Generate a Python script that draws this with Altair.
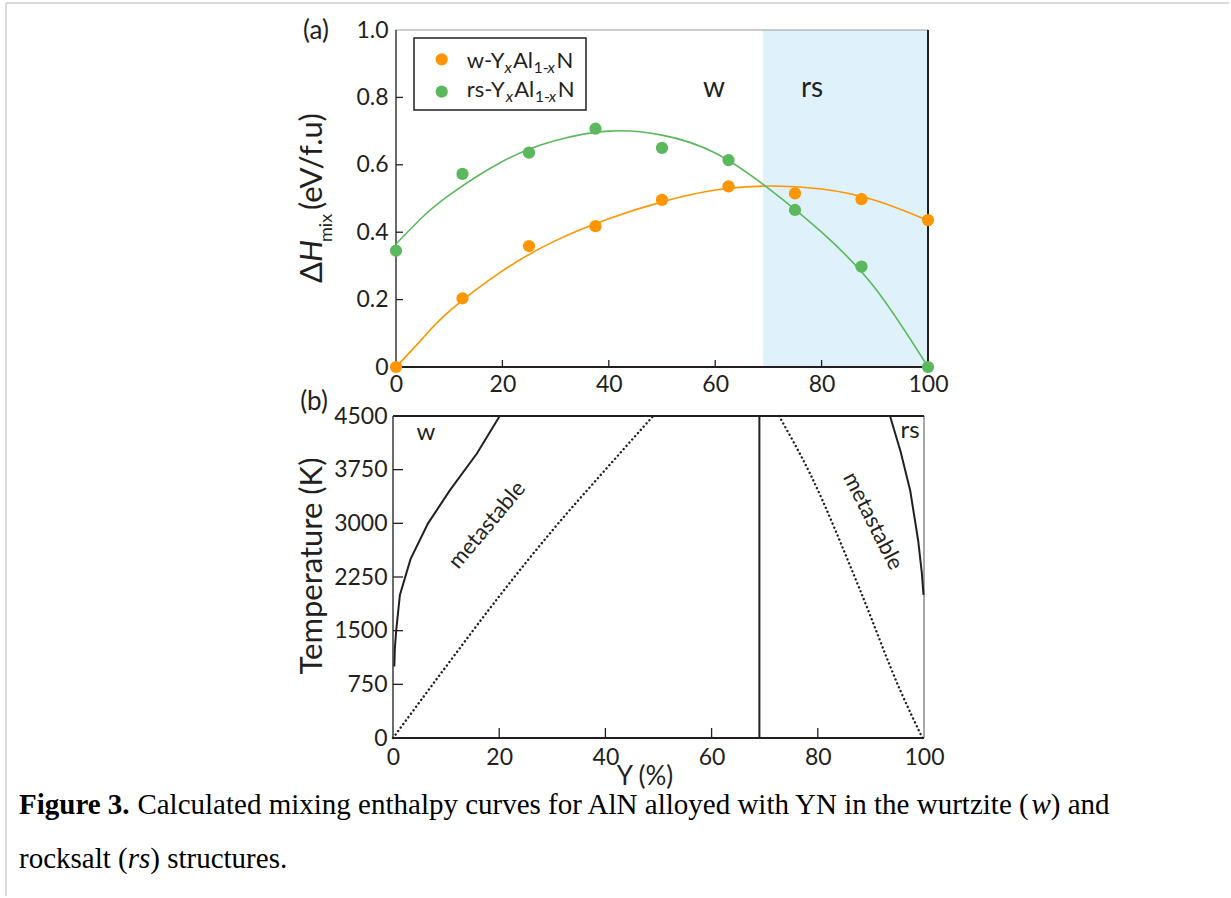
import altair as alt
import pandas as pd

SANS = "Lato"
SERIF = "Liberation Serif"
INK = "#231f20"
ORANGE = "#ff9500"
GREEN = "#5cb85c"
SHADE = "#dff1fb"

# ---------------- (a) mixing enthalpy ----------------
y_grid = [0, 12.5, 25, 37.5, 50, 62.5, 75, 87.5, 100]
dh_w = [0.0, 0.204, 0.359, 0.418, 0.496, 0.536, 0.515, 0.498, 0.436]
dh_rs = [0.345, 0.573, 0.636, 0.707, 0.650, 0.614, 0.466, 0.298, 0.0]

fit_grid = [0, 5, 10, 20, 30, 40, 50, 60, 70, 80, 90, 100]
fit_w = [0.0, 0.085, 0.165, 0.285, 0.375, 0.44, 0.49, 0.525, 0.537, 0.528, 0.495, 0.435]
fit_rs = [0.365, 0.445, 0.51, 0.61, 0.672, 0.70, 0.688, 0.635, 0.53, 0.40, 0.235, 0.0]

boundary = 69  # w / rs stability boundary, Y (%)

x_ticks = [0, 20, 40, 60, 80, 100]
dh_ticks = [0, 0.2, 0.4, 0.6, 0.8, 1.0]
T_ticks = [0, 750, 1500, 2250, 3000, 3750, 4500]

# ---------------- (b) phase diagram ----------------
bin_w_y = [0.25, 0.35, 0.6, 1.3, 3.3, 6.6, 10.7, 15.8, 20.1]
bin_w_T = [1000, 1250, 1500, 2000, 2500, 3000, 3460, 3975, 4500]
spin_w_y = [0, 10, 20, 30, 40, 49]
spin_w_T = [0, 1000, 1980, 2900, 3750, 4500]
spin_rs_y = [72.7, 78.5, 88.0, 95.5, 99.7]
spin_rs_T = [4500, 3700, 2060, 670, 0]
bin_rs_y = [93.6, 95.6, 97.4, 98.9, 99.6, 99.9]
bin_rs_T = [4500, 4000, 3460, 2760, 2300, 2000]

# ---------------- tables ----------------
pts = pd.DataFrame({
    "Y": y_grid + y_grid,
    "v": dh_w + dh_rs,
    "phase": ["w"] * len(y_grid) + ["rs"] * len(y_grid),
})
fits = pd.DataFrame({
    "Y": fit_grid + fit_grid,
    "v": fit_w + fit_rs,
    "phase": ["w"] * len(fit_grid) + ["rs"] * len(fit_grid),
})


def curve_table(curves):
    rows = []
    for name, ys, ts in curves:
        for i, (a, b) in enumerate(zip(ys, ts)):
            rows.append({"Y": a, "v": b, "curve": name, "i": i})
    return pd.DataFrame(rows)


solid = curve_table([("w-bin", bin_w_y, bin_w_T), ("rs-bin", bin_rs_y, bin_rs_T)])
dotted = curve_table([("w-spin", spin_w_y, spin_w_T), ("rs-spin", spin_rs_y, spin_rs_T)])

region = pd.DataFrame({"lo": [boundary], "hi": [100]})
ONE = pd.DataFrame({"k": [0]})

W_A, H_A = 535, 337
W_B, H_B = 531, 322

phase_color = alt.Scale(domain=["w", "rs"], range=[ORANGE, GREEN])

xs_a = alt.Scale(domain=[0, 100], range=[3, W_A], nice=False)
ys_a = alt.Scale(domain=[0, 1], nice=False)
xs_b = alt.Scale(domain=[0, 100], nice=False)
ys_b = alt.Scale(domain=[0, 4500], nice=False)

ax_common = dict(labelFont=SANS, labelFontSize=23, labelColor=INK, domain=False,
                 ticks=False, tickSize=0, grid=False, title=None, labelOverlap=False,
                 labelFlush=False)
ax_a_x = alt.Axis(values=x_ticks, format="d", labelPadding=6, **ax_common)
ax_a_y = alt.Axis(values=dh_ticks, labelPadding=5,
                  labelExpr="datum.value == 0 ? '0' : format(datum.value, '.1f')", **ax_common)
ax_b_x = alt.Axis(values=x_ticks, format="d", labelPadding=8, **ax_common)
ax_b_y = alt.Axis(values=T_ticks, format="d", labelPadding=6, **ax_common)


def txt(s, x, y, size, font=SANS, color=INK, **kw):
    return alt.Chart(ONE).mark_text(text=s, fontSize=size, font=font, color=color, **kw).encode(
        x=alt.value(x), y=alt.value(y))


def xa(f="Y"):
    return alt.X(f + ":Q", scale=xs_a, axis=ax_a_x)


def ya(f="v"):
    return alt.Y(f + ":Q", scale=ys_a, axis=ax_a_y)


def xb(f="Y"):
    return alt.X(f + ":Q", scale=xs_b, axis=ax_b_x)


def yb(f="v"):
    return alt.Y(f + ":Q", scale=ys_b, axis=ax_b_y)


# ---------- panel (a) ----------
shade = alt.Chart(region).mark_rect(color=SHADE).encode(
    x=xa("lo"), x2="hi", y=alt.value(0), y2=alt.value(H_A))

frame_a = [
    alt.Chart(ONE).mark_rule(color="#9a9a9a", strokeWidth=1).encode(
        x=alt.datum(0), x2=alt.datum(100), y=alt.value(0)),
    alt.Chart(ONE).mark_rule(color=INK, strokeWidth=2).encode(
        x=alt.datum(100), y=alt.value(0), y2=alt.value(H_A)),
    alt.Chart(ONE).mark_rule(color="#3a3a3a", strokeWidth=1.5).encode(
        x=alt.datum(0), y=alt.value(0), y2=alt.value(H_A)),
    alt.Chart(ONE).mark_rule(color=INK, strokeWidth=2).encode(
        x=alt.datum(0), x2=alt.datum(100), y=alt.value(H_A)),
]

xt_a = alt.Chart(pd.DataFrame({"Y": x_ticks[1:-1]})).mark_rule(color=INK, strokeWidth=1.3).encode(
    x=xa(), y=alt.value(H_A), y2=alt.value(H_A - 7))
yt_a = alt.Chart(pd.DataFrame({"v": dh_ticks[1:-1]})).mark_rule(color=INK, strokeWidth=1.3).encode(
    y=ya(), x=alt.value(3), x2=alt.value(10))

fit_lines = alt.Chart(fits).mark_line(interpolate="natural", strokeWidth=1.6).encode(
    x=xa(), y=ya(), color=alt.Color("phase:N", scale=phase_color, legend=None), detail="phase:N")
dots = alt.Chart(pts).mark_circle(size=150, opacity=1).encode(
    x=xa(), y=ya(), color=alt.Color("phase:N", scale=phase_color, legend=None))

legend_box = alt.Chart(ONE).mark_rect(fill="white", stroke=INK, strokeWidth=1.5).encode(
    x=alt.value(21), x2=alt.value(193), y=alt.value(8), y2=alt.value(80))
legend_dots = [
    alt.Chart(ONE).mark_circle(size=150, opacity=1, color=ORANGE).encode(
        x=alt.value(48.7), y=alt.value(29.3)),
    alt.Chart(ONE).mark_circle(size=150, opacity=1, color=GREEN).encode(
        x=alt.value(48.7), y=alt.value(61.7)),
]


def formula(prefix, x0, base, shift):
    # Y_x Al_{1-x} N written piece by piece
    main, sub = 22, 16
    pieces = [
        (prefix + "-Y", x0, base, main, "normal"),
        ("x", shift[0], base + 5, sub, "italic"),
        ("Al", shift[1], base, main, "normal"),
        ("1-", shift[2], base + 5, sub, "normal"),
        ("x", shift[3], base + 5, sub, "italic"),
        ("N", shift[4], base, main, "normal"),
    ]
    return [txt(s, x, y, fs, align="left", baseline="alphabetic", fontStyle=st)
            for s, x, y, fs, st in pieces]


legend_text = (formula("w", 73.7, 38.3, [111.5, 120.0, 140.5, 154.5, 163.5])
               + formula("rs", 73.7, 67.3, [112.7, 121.2, 141.7, 155.7, 164.7]))

labels_a = [
    txt("w", 321, 67.3, 28, align="center", baseline="alphabetic"),
    txt("rs", 419, 67.3, 28, align="center", baseline="alphabetic"),
    txt("(a)", -77, 1, 26, align="center", baseline="middle"),
]

# y title: ΔH_mix (eV/f.u)
TT = 31
title_a = [
    txt("Δ", -71, 253, TT, align="left", baseline="alphabetic", angle=270),
    txt("H", -71, 232, TT, align="left", baseline="alphabetic", angle=270, fontStyle="italic"),
    txt("mix", -61, 212, 18, align="left", baseline="alphabetic", angle=270),
    txt("(eV/f.u)", -71, 180, TT, align="left", baseline="alphabetic", angle=270),
]

# page frame
page = [
    alt.Chart(ONE).mark_rule(color="#d9d9d9", strokeWidth=2).encode(
        x=alt.value(-387), y=alt.value(-27), y2=alt.value(866)),
    alt.Chart(ONE).mark_rule(color="#d9d9d9", strokeWidth=2).encode(
        x=alt.value(-387), x2=alt.value(836), y=alt.value(-27)),
]

panel_a = alt.layer(
    shade, *frame_a, xt_a, yt_a, fit_lines, dots, legend_box, *legend_dots,
    *legend_text, *labels_a, *title_a, *page,
).properties(width=W_A, height=H_A)

# ---------- panel (b) ----------
frame_b = [
    alt.Chart(ONE).mark_rule(color="#8a8a8a", strokeWidth=1.5).encode(
        x=alt.datum(100), y=alt.value(0), y2=alt.value(H_B)),
    alt.Chart(ONE).mark_rule(color=INK, strokeWidth=2).encode(
        x=alt.datum(0), x2=alt.datum(100), y=alt.value(0)),
    alt.Chart(ONE).mark_rule(color="#3a3a3a", strokeWidth=1.5).encode(
        x=alt.datum(0), y=alt.value(0), y2=alt.value(H_B)),
    alt.Chart(ONE).mark_rule(color=INK, strokeWidth=2).encode(
        x=alt.datum(0), x2=alt.datum(100), y=alt.value(H_B)),
]

xt_b = alt.Chart(pd.DataFrame({"Y": x_ticks[1:-1]})).mark_rule(color=INK, strokeWidth=1.3).encode(
    x=xb(), y=alt.value(H_B), y2=alt.value(H_B - 10))
yt_b = alt.Chart(pd.DataFrame({"v": T_ticks[1:-1]})).mark_rule(color=INK, strokeWidth=1.3).encode(
    y=yb(), x=alt.value(0), x2=alt.value(10))

split = alt.Chart(region).mark_rule(color=INK, strokeWidth=2).encode(
    x=xb("lo"), y=alt.value(0), y2=alt.value(H_B))

solid_lines = alt.Chart(solid).mark_line(color=INK, strokeWidth=2).encode(
    x=xb(), y=yb(), detail="curve:N", order="i:Q")
dotted_lines = alt.Chart(dotted).mark_line(color=INK, strokeWidth=2.4, strokeDash=[0.1, 4.2],
                                           strokeCap="round", interpolate="monotone").encode(
    x=xb(), y=yb(), detail="curve:N", order="i:Q")

labels_b = [
    txt("w", 33, 24, 24, align="center", baseline="alphabetic"),
    txt("rs", 517, 22, 24, align="center", baseline="alphabetic"),
    txt("metastable", 94, 109, 22, align="center", baseline="middle", angle=310),
    txt("metastable", 480, 105, 22, align="center", baseline="middle", angle=63),
    txt("(b)", -79, -14, 26, align="center", baseline="middle"),
    txt("Temperature (K)", -71, 150, TT, align="center", baseline="alphabetic", angle=270),
    txt("Y (%)", 252, 369, 26, align="center", baseline="alphabetic"),
]

# caption, offsets in em of the serif face
CAP = 29
cap_x, cap_y1, cap_y2 = -374, 398, 452
caption_pieces = [
    ("Figure 3.", 0.0, cap_y1, "bold", "normal"),
    ("Calculated mixing enthalpy curves for AlN alloyed with YN in the wurtzite (", 4.083, cap_y1,
     "normal", "normal"),
    ("w", 34.912, cap_y1, "normal", "italic"),
    (") and", 35.579, cap_y1, "normal", "normal"),
    ("rocksalt (", 0.0, cap_y2, "normal", "normal"),
    ("rs", 3.749, cap_y2, "normal", "italic"),
    (") structures.", 4.527, cap_y2, "normal", "normal"),
]
caption = [txt(s, cap_x + em * CAP, y, CAP, font=SERIF, color="#000000", align="left",
               baseline="alphabetic", fontWeight=wt, fontStyle=st)
           for s, em, y, wt, st in caption_pieces]

panel_b = alt.layer(
    *frame_b, xt_b, yt_b, split, solid_lines, dotted_lines, *labels_b, *caption,
).properties(width=W_B, height=H_B)

chart = alt.vconcat(panel_a, panel_b, spacing=49, bounds="flush").properties(
    padding={"left": 5, "top": 2, "right": 0, "bottom": 0},
    background="white",
).configure_view(strokeWidth=0)

chart.save("out.html", embed_options={"renderer": "svg", "actions": False})
